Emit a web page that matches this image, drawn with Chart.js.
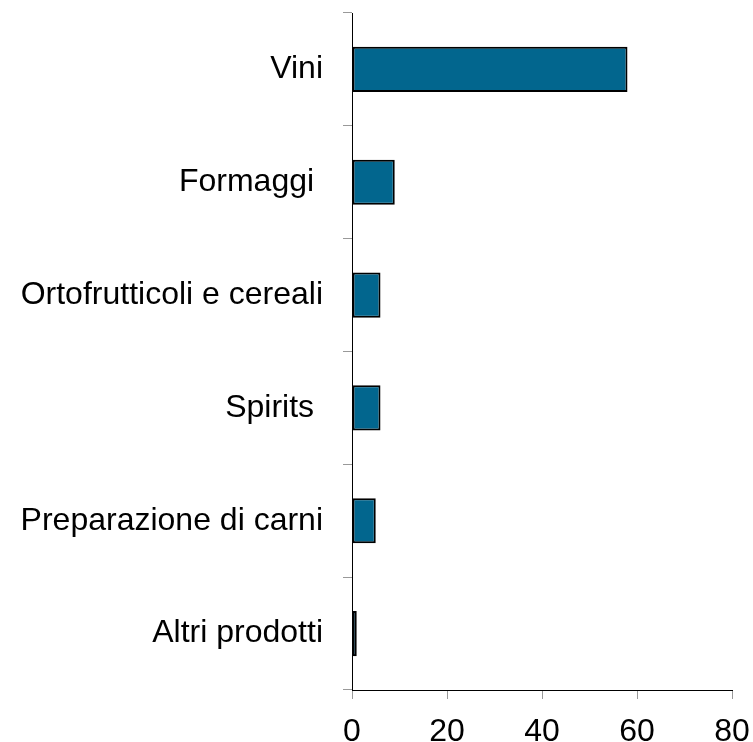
<!DOCTYPE html>
<html>
<head>
<meta charset="utf-8">
<script src="https://cdn.jsdelivr.net/npm/chart.js@4"></script>
<style>
  body { margin: 0; background: #fff; }
</style>
</head>
<body>
<canvas id="grafica" width="753" height="742"></canvas>
<script>
// categorie e valori
const categorie = ['Vini', 'Formaggi ', 'Ortofrutticoli e cereali', 'Spirits ', 'Preparazione di carni', 'Altri prodotti'];
const valori = [58, 9, 6, 6, 5, 1];
const assexMin = 0;
const assexMax = 80;
const passoX = 20;

const fonte = { family: "'Liberation Sans', Arial, sans-serif", size: 32 };

new Chart(document.getElementById('grafica'), {
    type: 'bar',
    data: {
        labels: categorie,
        datasets: [{
            data: valori,
            backgroundColor: '#02668e',
            borderColor: '#000',
            borderWidth: 2,
            borderSkipped: false,
            barPercentage: 0.4,
            categoryPercentage: 1
        }]
    },
    options: {
        indexAxis: 'y',
        responsive: false,
        animation: false,
        layout: { padding: { top: 13, right: 21, left: 0, bottom: 0 } },
        plugins: { legend: { display: false }, tooltip: { enabled: false } },
        scales: {
            x: {
                min: assexMin,
                max: assexMax,
                ticks: { stepSize: passoX, color: '#000', font: fonte, padding: 14, maxRotation: 0 },
                grid: { drawOnChartArea: false, tickLength: 9, color: '#999' },
                border: { color: '#000', width: 1 },
                afterFit: (s) => { s.height = 52; s.paddingLeft = 0; s.paddingRight = 0; }
            },
            y: {
                ticks: { color: '#000', font: fonte, padding: 20 },
                grid: { drawOnChartArea: false, tickLength: 9, color: '#999', offset: true },
                border: { color: '#000', width: 1 },
                afterFit: (s) => { s.width = 352; s.paddingTop = 0; s.paddingBottom = 0; }
            }
        }
    }
});
</script>
</body>
</html>
